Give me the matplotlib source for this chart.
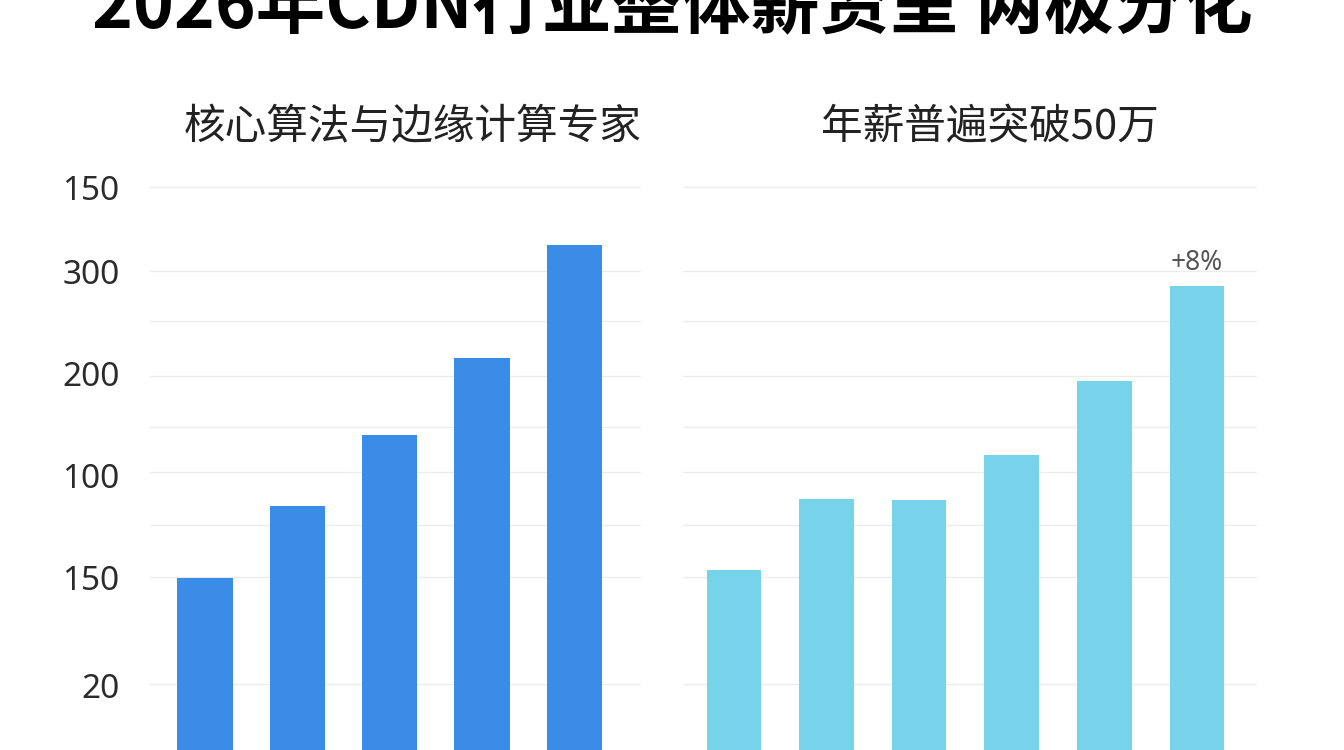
import matplotlib
matplotlib.use('Agg')
import matplotlib.pyplot as plt
import numpy as np

plt.rcParams['font.family'] = ['Noto Sans CJK SC', 'DejaVu Sans']
plt.rcParams['axes.unicode_minus'] = False

# ---------------- 数据 ----------------
title = '2026年CDN行业整体薪资呈 两极分化'
left_title = '核心算法与边缘计算专家'
right_title = '年薪普遍突破50万'

# 纵轴刻度（原图的刻度标签并非单调，按原样保留）
ytick_pos = [0.65, 1.72, 2.75, 3.76, 4.79, 5.63]
ytick_labels = ['20', '150', '100', '200', '300', '150']
grid_pos = [0.66, 1.73, 2.25, 2.78, 3.23, 3.74, 4.29, 4.79, 5.63]

left_values = [1.72, 2.44, 3.15, 3.92, 5.05]
right_values = [1.80, 2.51, 2.50, 2.95, 3.69, 4.64]
right_note = '+8%'

W, H = 1344, 750
fig = plt.figure(figsize=(W / 100, H / 100), dpi=100)
fig.patch.set_facecolor('white')


def px_axes(x0, x1, y_top):
    # 坐标轴从 y_top 像素一直延伸到图片底部
    return fig.add_axes([x0 / W, 0, (x1 - x0) / W, (H - y_top) / H])


def style(ax, xl):
    ax.set_xlim(*xl)
    ax.set_ylim(0, 6.0)
    for s in ax.spines.values():
        s.set_visible(False)
    ax.set_xticks([])
    for g in grid_pos:
        ax.axhline(g, color='#ECECEC', lw=1.0, zorder=0)
    ax.set_facecolor('none')


# 左图
axl = px_axes(150, 641, 150)
style(axl, (-0.595, 4.72))
axl.bar(np.arange(len(left_values)), left_values, width=0.6,
        color='#3B8CE6', zorder=2)
axl.set_yticks(ytick_pos)
axl.set_yticklabels(ytick_labels, fontsize=24, color='#2B2B2B')
axl.tick_params(axis='y', length=0, pad=22)
for lab in axl.get_yticklabels():
    lab.set_fontfamily(['Noto Sans', 'DejaVu Sans'])

# 右图
axr = px_axes(683, 1257, 150)
style(axr, (-0.55, 5.65))
axr.bar(np.arange(len(right_values)), right_values, width=0.59,
        color='#76D3EA', zorder=2)
axr.set_yticks([])
axr.text(len(right_values) - 1, right_values[-1] + 0.09, right_note,
         ha='center', va='bottom', fontsize=19, color='#555555',
         family=['Noto Sans', 'DejaVu Sans'])

# 标题（原图顶部被裁切）
fig.text(0.5, 1 - 8 / H, title, ha='center', va='center',
         fontsize=50, fontweight='heavy', color='black')
fig.text(413 / W, 1 - 128 / H, left_title, ha='center', va='center',
         fontsize=30, color='#222222')
fig.text(990 / W, 1 - 128 / H, right_title, ha='center', va='center',
         fontsize=30, color='#222222')

fig.savefig('out.png', dpi=100)
